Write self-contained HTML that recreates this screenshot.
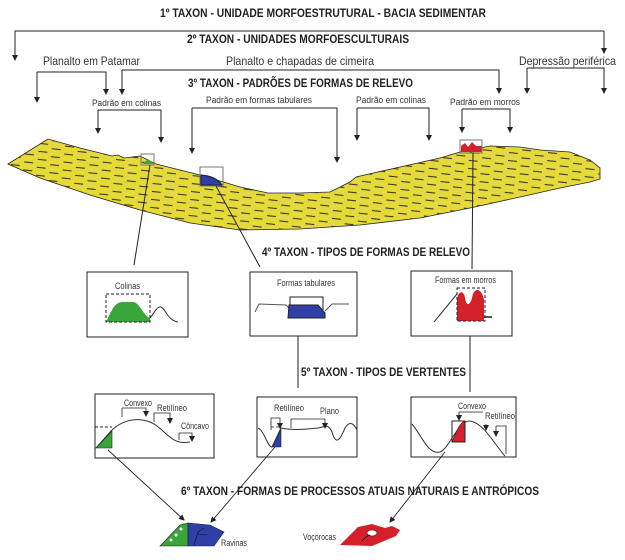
<!DOCTYPE html>
<html><head><meta charset="utf-8"><style>
html,body{margin:0;padding:0;background:#fff;}
svg{display:block;}
.b{font-family:"Liberation Sans Narrow","Liberation Sans",sans-serif;font-weight:bold;font-size:12px;fill:#231f20;}
.r{font-family:"Liberation Sans Narrow","Liberation Sans",sans-serif;font-size:12px;fill:#333;}
.s{font-family:"Liberation Sans Narrow","Liberation Sans",sans-serif;font-size:9px;fill:#333;}
</style></head><body>
<svg width="625" height="560" viewBox="0 0 625 560" xmlns="http://www.w3.org/2000/svg">
<defs>
<marker id="a" markerWidth="6" markerHeight="6" refX="5" refY="3" orient="auto" markerUnits="userSpaceOnUse">
<path d="M0,0 L6,3 L0,6 z" fill="#222"/></marker>
<pattern id="d" width="26" height="8" patternUnits="userSpaceOnUse" patternTransform="rotate(6)">
<line x1="2" y1="2.5" x2="11" y2="2.5" stroke="#3a3a20" stroke-width="1.1"/>
<line x1="15" y1="6.5" x2="24" y2="6.5" stroke="#3a3a20" stroke-width="1.1"/>
</pattern>
</defs>
<g stroke="#222" stroke-width="1" fill="none">
<path d="M15,31 H604"/><path d="M15,31 V60" marker-end="url(#a)"/><path d="M604,31 V53" marker-end="url(#a)"/>
<path d="M37,72 H106 V94" marker-end="url(#a)"/><path d="M37,72 V102" marker-end="url(#a)"/>
<path d="M122,70 H499 V93" marker-end="url(#a)"/><path d="M122,70 V94" marker-end="url(#a)"/>
<path d="M527,68 H604 V93" marker-end="url(#a)"/><path d="M527,68 V93" marker-end="url(#a)"/>
<path d="M98,110 H161 V142" marker-end="url(#a)"/><path d="M98,110 V133" marker-end="url(#a)"/>
<path d="M192,108 H337 V162" marker-end="url(#a)"/><path d="M192,108 V153" marker-end="url(#a)"/>
<path d="M357,108 H429 V140" marker-end="url(#a)"/><path d="M357,108 V140" marker-end="url(#a)"/>
<path d="M462,109 H510 V132" marker-end="url(#a)"/><path d="M462,109 V132" marker-end="url(#a)"/>
</g>
<path d="M8,164 L48,139 L80,148 L112,156 L118,155 L124,158 L140,156 L156,164 L200,175 L240,187 L268,193 L300,193 L330,192 L350,182 L356,177 L400,167 L440,158 L460,152 L490,146 L520,147 L540,150 L570,152 L590,160 L600,168 L600,179 L590,182 L560,188 L520,197 L470,208 L420,218 L360,225 L300,229 L240,230 L190,223 L140,210 L90,195 L40,178 Z" fill="#e5da3a" stroke="#222" stroke-width="0.8"/>
<path d="M8,164 L48,139 L80,148 L112,156 L118,155 L124,158 L140,156 L156,164 L200,175 L240,187 L268,193 L300,193 L330,192 L350,182 L356,177 L400,167 L440,158 L460,152 L490,146 L520,147 L540,150 L570,152 L590,160 L600,168 L600,179 L590,182 L560,188 L520,197 L470,208 L420,218 L360,225 L300,229 L240,230 L190,223 L140,210 L90,195 L40,178 Z" fill="url(#d)"/>
<path d="M143,164 Q148,156 154,164 Z" fill="#3aa63a"/><rect x="141" y="154" width="13" height="11" fill="none" stroke="#777"/>
<path d="M201,175 Q216,176 222,185 L201,185 Z" fill="#2f3fa8" stroke="#222"/><rect x="200" y="167" width="23" height="19" fill="none" stroke="#777"/>
<path d="M461,152 L461,146 L465,143 L468,147 L472,142 L476,146 L482,146 L482,152 Z" fill="#d4202a"/><rect x="460" y="140" width="22" height="13" fill="none" stroke="#777"/>
<g stroke="#222" stroke-width="1" fill="none">
<line x1="150" y1="165" x2="134" y2="265"/>
<line x1="216" y1="186" x2="260" y2="267"/>
<line x1="473" y1="153" x2="472" y2="269"/>
<line x1="298" y1="318" x2="298" y2="388"/>
<line x1="470" y1="321" x2="470" y2="392"/>
</g>
<g stroke="#222" stroke-width="1" fill="#fff">
<rect x="87" y="272" width="101" height="65"/>
<rect x="250" y="272" width="107" height="64"/>
<rect x="411" y="271" width="101" height="65"/>
<rect x="95" y="394" width="119" height="64"/>
<rect x="257" y="397" width="100" height="60"/>
<rect x="411" y="397" width="105" height="60"/>
</g>
<path d="M106,322 C112,310 114,303 122,302 L134,302 C140,304 144,316 150,318 L150,322 Z" fill="#3aa63a"/>
<path d="M150,318 C155,312 157,306 161,307 C166,309 167,320 178,322" fill="none" stroke="#333"/>
<rect x="106" y="294" width="44" height="28" fill="none" stroke="#222" stroke-dasharray="3,2"/>
<path d="M255,312 L259,304 L286,305 L291,310 M325,311 L332,304 L349,304" fill="none" stroke="#555"/>
<path d="M289,305 L318,305 L325,313 L325,318 L288,318 Z" fill="#2f3fa8" stroke="#222"/>
<path d="M290,305 V297 H323 V310" fill="none" stroke="#222"/>
<path d="M434,322 L457,294" stroke="#333" fill="none"/>
<path d="M457,321 L457,300 C458,290 464,290 465,298 C466,306 470,306 472,298 C474,286 482,288 484,300 L484,321 Z" fill="#d4202a"/>
<rect x="457" y="288" width="28" height="33" fill="none" stroke="#222" stroke-dasharray="3,2"/>
<line x1="484" y1="317" x2="492" y2="317" stroke="#222" stroke-width="1.5"/>
<path d="M96,448 L112,430 C125,418 140,418 150,422 C165,428 170,446 190,442" fill="none" stroke="#333"/>
<path d="M96,448 L112,431 L112,448 Z" fill="#3aa63a" stroke="#222" stroke-width="0.6"/>
<line x1="95" y1="427" x2="112" y2="427" stroke="#222" stroke-dasharray="3,2"/>
<g fill="none" stroke="#222" stroke-width="0.8">
<path d="M122,417 V408 H146 V416" marker-end="url(#a)"/>
<path d="M154,422 V413 H170 V423" marker-end="url(#a)"/>
<path d="M179,440 V433 H192 V441" marker-end="url(#a)"/>
</g>
<path d="M258,428 C264,430 268,448 272,447 L281,428 C290,430 300,430 318,428 C325,427 328,423 332,432 C336,446 340,440 345,428 C350,420 354,424 357,430" fill="none" stroke="#333"/>
<path d="M272,447 L281,447 L281,429 Z" fill="#2f3fa8" stroke="#222" stroke-width="0.6"/>
<g fill="none" stroke="#222" stroke-width="0.8">
<path d="M271,430 V418 H280 V428" marker-end="url(#a)"/>
<path d="M291,428 V419 H325 V428" marker-end="url(#a)"/>
<line x1="271" y1="427" x2="281" y2="427" stroke-dasharray="3,2"/>
</g>
<path d="M412,424 C422,436 428,455 440,452 C450,448 458,420 470,421 C484,423 494,444 505,456" fill="none" stroke="#333"/>
<path d="M452,442 C456,432 460,422 465,421 L465,442 Z" fill="#d4202a" stroke="#222" stroke-width="0.6"/>
<rect x="452" y="421" width="13" height="21" fill="none" stroke="#222"/>
<g fill="none" stroke="#222" stroke-width="0.8">
<path d="M483,412 H459 V420" marker-end="url(#a)"/>
<path d="M486,424 V430" marker-end="url(#a)"/>
<path d="M496,426 V436" marker-end="url(#a)"/>
<path d="M496,426 H506 V454"/>
</g>
<g stroke="#222" stroke-width="0.9" fill="none">
<line x1="108" y1="450" x2="184" y2="520" marker-end="url(#a)"/>
<line x1="275" y1="447" x2="211" y2="522" marker-end="url(#a)"/>
<line x1="445" y1="452" x2="390" y2="522" marker-end="url(#a)"/>
</g>
<path d="M160,546 L180,525 L188,523 L188,546 Z" fill="#3aa63a" stroke="#222" stroke-width="0.6"/>
<path d="M188,523 L210,525 L224,532 L214,546 L188,546 Z" fill="#2f3fa8" stroke="#222" stroke-width="0.6"/>
<circle cx="171" cy="540" r="1.5" fill="#fff"/><circle cx="176" cy="535" r="1.5" fill="#fff"/><circle cx="181" cy="529" r="1.5" fill="#fff"/>
<path d="M194,545 L198,532 L204,528 M198,534 L207,535" stroke="#111" fill="none" stroke-width="0.6"/>
<path d="M340,545 L358,527 L372,524 L385,528 L392,526 L400,530 L396,536 L384,541 L372,546 Z" fill="#d4202a"/>
<ellipse cx="372" cy="533" rx="5" ry="3" fill="#fff" stroke="#222" stroke-width="0.6"/>
<path d="M362,541 Q366,536 370,535" stroke="#111" fill="none" stroke-width="0.7"/>
<text class="b" x="160" y="17" textLength="326" lengthAdjust="spacingAndGlyphs">1º TAXON - UNIDADE MORFOESTRUTURAL - BACIA SEDIMENTAR</text>
<text class="b" x="187" y="43" textLength="222" lengthAdjust="spacingAndGlyphs">2º TAXON - UNIDADES MORFOESCULTURAIS</text>
<text class="b" x="188" y="87" textLength="225" lengthAdjust="spacingAndGlyphs">3º TAXON - PADRÕES DE FORMAS DE RELEVO</text>
<text class="b" x="262" y="256" textLength="208" lengthAdjust="spacingAndGlyphs">4º TAXON - TIPOS DE FORMAS DE RELEVO</text>
<text class="b" x="301" y="376" textLength="165" lengthAdjust="spacingAndGlyphs">5º TAXON - TIPOS DE VERTENTES</text>
<text class="b" x="181" y="495" textLength="358" lengthAdjust="spacingAndGlyphs">6º TAXON - FORMAS DE PROCESSOS ATUAIS NATURAIS E ANTRÓPICOS</text>
<text class="r" x="43" y="65" textLength="97" lengthAdjust="spacingAndGlyphs">Planalto em Patamar</text>
<text class="r" x="226" y="65" textLength="148" lengthAdjust="spacingAndGlyphs">Planalto e chapadas de cimeira</text>
<text class="r" x="519" y="65" textLength="97" lengthAdjust="spacingAndGlyphs">Depressão periférica</text>
<text class="s" x="92" y="106" textLength="69" lengthAdjust="spacingAndGlyphs">Padrão em colinas</text>
<text class="s" x="206" y="103" textLength="106" lengthAdjust="spacingAndGlyphs">Padrão em formas tabulares</text>
<text class="s" x="356" y="103" textLength="70" lengthAdjust="spacingAndGlyphs">Padrão em colinas</text>
<text class="s" x="450" y="105" textLength="70" lengthAdjust="spacingAndGlyphs">Padrão em morros</text>
<text class="s" x="115" y="289" textLength="25" lengthAdjust="spacingAndGlyphs">Colinas</text>
<text class="s" x="277" y="286" textLength="58" lengthAdjust="spacingAndGlyphs">Formas tabulares</text>
<text class="s" x="435" y="283" textLength="61" lengthAdjust="spacingAndGlyphs">Formas em morros</text>
<text class="s" x="124" y="406" textLength="28" lengthAdjust="spacingAndGlyphs">Convexo</text>
<text class="s" x="157" y="411" textLength="30" lengthAdjust="spacingAndGlyphs">Retilíneo</text>
<text class="s" x="181" y="429" textLength="28" lengthAdjust="spacingAndGlyphs">Côncavo</text>
<text class="s" x="274" y="411" textLength="30" lengthAdjust="spacingAndGlyphs">Retilíneo</text>
<text class="s" x="320" y="414" textLength="19" lengthAdjust="spacingAndGlyphs">Plano</text>
<text class="s" x="458" y="409" textLength="28" lengthAdjust="spacingAndGlyphs">Convexo</text>
<text class="s" x="485" y="419" textLength="30" lengthAdjust="spacingAndGlyphs">Retilíneo</text>
<text class="s" x="221" y="546" textLength="26" lengthAdjust="spacingAndGlyphs">Ravinas</text>
<text class="s" x="303" y="540" textLength="33" lengthAdjust="spacingAndGlyphs">Voçorocas</text>
</svg>
</body></html>
